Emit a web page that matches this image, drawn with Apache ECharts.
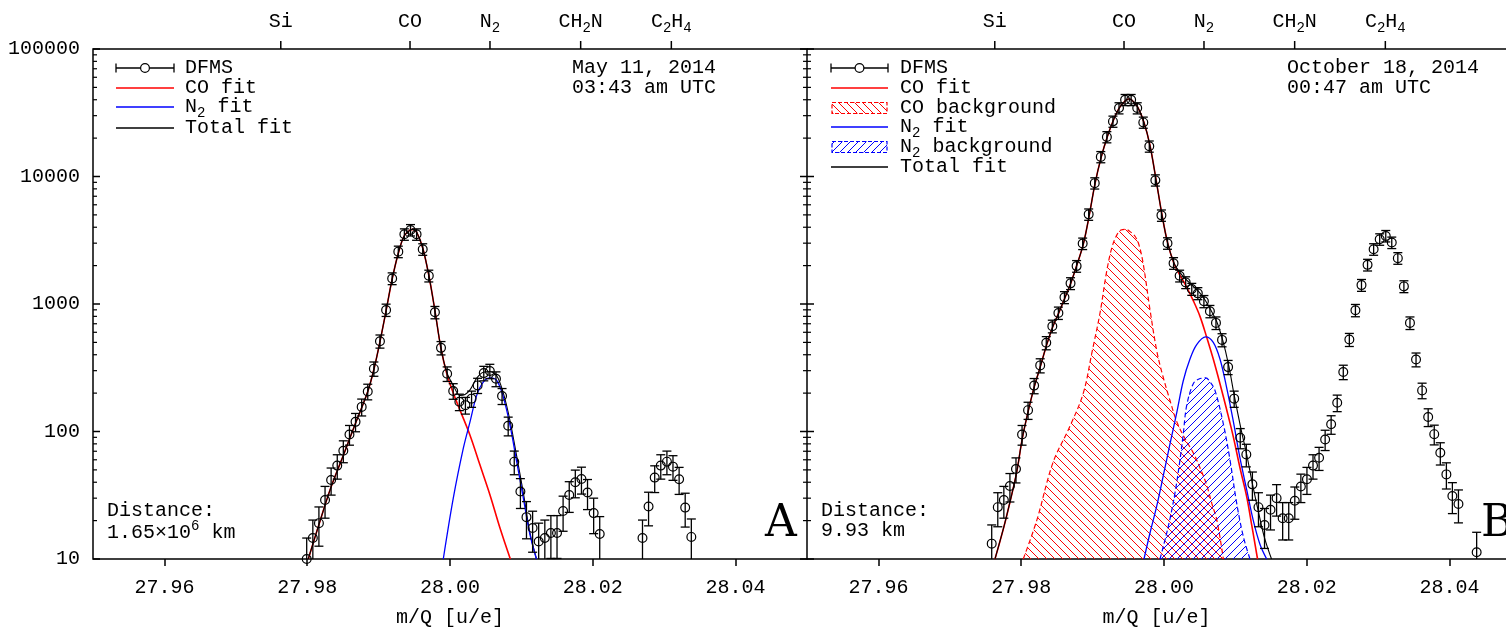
<!DOCTYPE html>
<html><head><meta charset="utf-8">
<script src="https://cdn.jsdelivr.net/npm/echarts@6/dist/echarts.min.js"></script>
<style>html,body{margin:0;padding:0;background:#fff}#c{width:1506px;height:633px}</style>
</head><body><div id="c"></div>
<script>
// ---------------- data ----------------
const xTickValues = [27.96, 27.98, 28.00, 28.02, 28.04];
const yTickValues = [10, 100, 1000, 10000, 100000];
const yMinorMultipliers = [2, 3, 4, 5, 6, 7, 8, 9];
const speciesMass = [27.9763, 27.9944, 28.0056, 28.0183, 28.0310];
const speciesLabels = [[['Si',0]], [['CO',0]], [['N',0],['2',1]], [['CH',0],['2',1],['N',0]], [['C',0],['2',1],['H',0],['4',1]]];

// Panel A (May 11, 2014)
const dfmsA_x = [27.97993,27.98079,27.98164,27.98250,27.98335,27.98421,27.98506,27.98592,27.98677,27.98763,
  27.98848,27.98934,27.99019,27.99105,27.99190,27.99276,27.99361,27.99447,27.99532,27.99618,
  27.99703,27.99789,27.99874,27.99960,28.00045,28.00131,28.00216,28.00302,28.00387,28.00473,
  28.00558,28.00644,28.00729,28.00815,28.00900,28.00986,28.01071,28.01157,28.01242,28.01328,
  28.01413,28.01499,28.01584,28.01670,28.01755,28.01841,28.01926,28.02012,28.02097,
  28.02696,28.02781,28.02867,28.02952,28.03038,28.03123,28.03209,28.03294,28.03380];
const dfmsA_y = [10,14.6,19.1,29,41.7,54,70.7,94.8,119,156,206,311,511,898,1586,2575,3522,3806,3522,2688,
  1665,861,453,284,208,171,161,181,230,287,298,259,190,111,58,33.8,21.3,17.5,13.7,14.6,
  16,16,23.8,31.8,40,42.4,33.2,22.9,15.7,14.6,25.8,43.5,54,58,53,42.2,25.3,14.9];
const dfmsA_err = [4.6,5.6,6.5,8.1,10,11.7,13.8,16.7,19.5,23.6,28.9,39.9,60.3,99.3,168,267,362,390,362,279,
  176,95.6,54.4,37.1,29.1,25.2,24.1,26.3,31.4,37.4,38.5,34.5,27.2,18.6,12.2,8.9,6.9,6.2,5.4,5.6,
  5.9,5.9,7.3,8.6,9.8,10.1,8.8,7.1,5.8,5.6,7.6,10.3,11.7,12.2,11.6,10.1,7.5,5.7];

const coFitA_x = [27.98015,27.98156,27.98329,27.98506,27.98674,27.98847,27.98936,27.99020,27.99104,27.99188,
  27.99276,27.99356,27.99440,27.99482,27.99534,27.99618,27.99706,27.99790,27.99870,27.99954,
  28.00046,28.00140,28.00280,28.00420,28.00560,28.00700,28.00845];
const coFitA_y = [10,18,36,65,115,205,310,510,880,1550,2500,3400,3800,3850,3650,2750,1650,880,460,285,
  200,147,93.5,54.5,31.8,17.5,10];
const n2FitA_x = [27.99906,28.00046,28.00186,28.00280,28.00374,28.00466,28.00560,28.00654,28.00746,28.00840,
  28.00934,28.01027,28.01120,28.01211];
const n2FitA_y = [10,30,73.6,119,192,244,263,252,187,112,58,30,15.5,10];
const totFitA_x = [27.98015,27.98156,27.98329,27.98506,27.98674,27.98847,27.98936,27.99020,27.99104,27.99188,
  27.99276,27.99356,27.99440,27.99482,27.99534,27.99618,27.99706,27.99790,27.99870,27.99954,
  28.00046,28.00140,28.00210,28.00280,28.00374,28.00466,28.00560,28.00654,28.00746,28.00840,
  28.00934,28.01027,28.01120,28.01211];
const totFitA_y = [10,18,36,65,115,205,310,510,880,1550,2500,3400,3800,3850,3650,2750,1650,880,462,292,
  230,192,195,212,262,292,295,274,201,122,64,33,16,10];

// Panel B (October 18, 2014)
const dfmsB_x = [27.97587,27.97672,27.97757,27.97842,27.97927,27.98012,27.98096,27.98181,27.98266,27.98351,
  27.98436,27.98521,27.98606,27.98691,27.98776,27.98861,27.98945,27.99030,27.99115,27.99200,
  27.99285,27.99370,27.99455,27.99540,27.99625,27.99710,27.99794,27.99879,27.99964,28.00049,
  28.00134,28.00219,28.00304,28.00389,28.00474,28.00559,28.00643,28.00728,28.00813,28.00898,
  28.00983,28.01068,28.01153,28.01238,28.01323,28.01408,28.01492,28.01577,28.01662,28.01747,
  28.01832,28.01917,28.02002,28.02087,28.02172,28.02257,28.02341,28.02426,28.02511,28.02596,
  28.02681,28.02766,28.02851,28.02936,28.03021,28.03106,28.03190,28.03275,28.03360,28.03445,
  28.03530,28.03615,28.03700,28.03785,28.03870,28.03955,28.04039,28.04124,28.04379];
const dfmsB_y = [13.2,25.5,29,37.4,50.8,94.8,147,229,330,496,670,851,1128,1452,1982,2980,5048,8870,14250,20420,
  27040,34420,39970,39970,34420,26560,17250,9357,4957,2997,2090,1665,1477,1310,1212,1050,877,711,523,320,
  181,89.3,66.1,38.5,25.5,18.5,24.3,30,20.9,20.9,28.6,37,42.2,54,62.3,86.6,114,168,293,526,
  893,1407,2028,2690,3220,3419,3034,2288,1374,711,367,210,130,95.3,68.1,46.1,31.2,27,11.3];
const dfmsB_err = [5.3,7.6,8.1,9.4,11.3,16.7,22.6,31.3,41.8,58.8,76.3,94.6,122,155,208,308,515,897,1435,2052,
  2714,3452,4007,4007,3452,2666,1735,946,506,310,219,176,157,141,131,115,97.2,80.5,61.5,40.8,
  26.3,16.1,13.3,9.6,7.6,6.4,7.4,8.3,6.8,6.8,8.1,9.3,10.1,11.7,12.8,15.7,18.9,24.9,38,61.8,
  98.8,150,213,279,332,352,313,239,147,80.5,45.6,29.3,20.7,16.8,13.5,10.7,8.5,7.8,4.9];

const totFitB_x = [27.97633,27.97759,27.97843,27.97937,27.98015,27.98099,27.98184,27.98273,27.98357,27.98441,
  27.98529,27.98613,27.98697,27.98777,27.98870,27.98954,27.99034,27.99118,27.99206,27.99290,
  27.99374,27.99464,27.99506,27.99548,27.99632,27.99720,27.99804,27.99888,27.99972,28.00052,
  28.00140,28.00224,28.00308,28.00396,28.00480,28.00564,28.00654,28.00738,28.00822,28.00906,
  28.00985,28.01078,28.01158,28.01242,28.01326,28.01410,28.01506];
const totFitB_y = [10,18,28,48,88,145,225,330,480,660,860,1120,1470,2000,2950,5000,8800,14000,20500,27500,
  34500,39500,40500,39800,35000,26500,17500,9500,5000,3000,2100,1760,1560,1400,1260,1100,900,730,520,330,
  190,105,66,38,23,14.5,10];
const coFitB_x = [27.97633,27.97759,27.97843,27.97937,27.98015,27.98099,27.98184,27.98273,27.98357,27.98441,
  27.98529,27.98613,27.98697,27.98777,27.98870,27.98954,27.99034,27.99118,27.99206,27.99290,
  27.99374,27.99464,27.99506,27.99548,27.99632,27.99720,27.99804,27.99888,27.99972,28.00052,
  28.00140,28.00224,28.00308,28.00410,28.00504,28.00598,28.00690,28.00784,28.00878,28.00971,
  28.01064,28.01158,28.01232,28.01310];
const coFitB_y = [10,18,28,48,88,145,225,330,480,660,860,1120,1470,2000,2950,5000,8800,14000,20500,27500,
  34500,39500,40500,39800,35000,26500,17500,9500,5000,3000,2080,1680,1390,1062,800,549,370,237,148,90.8,
  52,30.9,18,10];
const coBgB_x = [27.98029,27.98217,27.98445,27.98683,27.98870,27.98992,27.99104,27.99197,27.99272,27.99342,
  27.99398,27.99464,27.99524,27.99594,27.99650,27.99710,27.99804,27.99902,27.99986,28.00084,
  28.00182,28.00294,28.00410,28.00504,28.00598,28.00672,28.00742,28.00831];
const coBgB_y = [10,20,57,110,200,420,850,1800,2800,3500,3800,3850,3700,3400,2900,2050,900,420,270,175,
  118,88,68,52,38,27,20,10];
const n2FitB_x = [27.99720,27.99804,27.99898,27.99990,28.00084,28.00178,28.00270,28.00364,28.00458,28.00584,
  28.00690,28.00784,28.00878,28.00971,28.01064,28.01158,28.01251,28.01345,28.01438];
const n2FitB_y = [10,16,26,45,80,140,250,370,480,552,500,370,220,120,62,35,20,13,10];
const n2BgB_x = [27.99944,28.00060,28.00154,28.00224,28.00270,28.00318,28.00410,28.00490,28.00584,28.00644,
  28.00714,28.00831,28.00924,28.01018,28.01111,28.01204];
const n2BgB_y = [10,18,33,60,96,160,237,258,263,245,210,115,60,27.4,15,10];

// ---------------- rendering ----------------
const FONT = "'Liberation Mono','DejaVu Sans Mono',monospace";
const FS = 20;
const X_MIN = 27.95, X_MAX_A = 28.05, X_MAX_B = 28.0479;   // panel B is cut by the page edge
const zip = (xs, ys) => xs.map((x, i) => [x, ys[i]]);

function hatch(color, dir) {
  const s = 8, c = document.createElement('canvas');
  c.width = s; c.height = s;
  const ctx = c.getContext('2d');
  ctx.fillStyle = color;
  for (let i = 0; i < s; i++) ctx.fillRect(i, dir > 0 ? i : s - 1 - i, 1, 1);
  return c;
}
const redHatch = hatch('#ff0000', 1);
const blueHatch = hatch('#0000ff', -1);

function dfmsSeries(xs, ys, es, idx) {
  return {
    type: 'custom', xAxisIndex: idx, yAxisIndex: idx, clip: false, z: 10,
    encode: { x: 0, y: 1 },
    data: xs.map((x, i) => [x, ys[i], Math.max(ys[i] - es[i], 0.5), ys[i] + es[i]]),
    renderItem: (params, api) => {
      const cs = params.coordSys;
      const bottom = cs.y + cs.height;
      const x = api.value(0);
      const c = api.coord([x, api.value(1)]);
      const lo = api.coord([x, api.value(2)]);
      const hi = api.coord([x, api.value(3)]);
      const cap = 4.5, st = { stroke: '#000', lineWidth: 1.3 };
      const loY = Math.min(lo[1], bottom);
      const ch = [
        { type: 'line', shape: { x1: c[0], y1: hi[1], x2: c[0], y2: loY }, style: st },
        { type: 'line', shape: { x1: c[0] - cap, y1: hi[1], x2: c[0] + cap, y2: hi[1] }, style: st }
      ];
      if (lo[1] < bottom) ch.push({ type: 'line', shape: { x1: c[0] - cap, y1: lo[1], x2: c[0] + cap, y2: lo[1] }, style: st });
      ch.push({ type: 'circle', shape: { cx: c[0], cy: c[1], r: 4.4 }, style: { fill: 'none', stroke: '#000', lineWidth: 1.2 } });
      return { type: 'group', children: ch };
    }
  };
}
function lineSeries(xs, ys, idx, color, width, z, extra) {
  return Object.assign({
    type: 'line', xAxisIndex: idx, yAxisIndex: idx, data: zip(xs, ys),
    showSymbol: false, symbol: 'none', smooth: 0.35, z: z, silent: true,
    lineStyle: { color: color, width: width }
  }, extra || {});
}

const chart = echarts.init(document.getElementById('c'), null, { renderer: 'canvas' });
const axisText = { color: '#000', fontFamily: FONT, fontSize: FS };
chart.setOption({
  animation: false,
  backgroundColor: '#fff',
  grid: [
    { left: 93, top: 49, width: 714, height: 512, show: true, borderColor: '#000', borderWidth: 1.5, backgroundColor: 'transparent' },
    { left: 807, top: 49, width: 699, height: 512, show: false }
  ],
  xAxis: [0, 1].map(i => ({
    type: 'value', gridIndex: i, min: X_MIN, max: i === 0 ? X_MAX_A : X_MAX_B,
    axisLine: { show: i === 1, lineStyle: { color: '#000', width: 1.5 } }, splitLine: { show: false },
    axisTick: { show: true, inside: false, length: 7, lineStyle: { color: '#000', width: 1.5 }, customValues: xTickValues },
    axisLabel: Object.assign({ customValues: xTickValues, formatter: v => v.toFixed(2), margin: 19 }, axisText),
    name: 'm/Q [u/e]', nameLocation: 'middle', nameGap: 49, nameTextStyle: axisText,
    nameMoveOverlap: false
  })),
  yAxis: [0, 1].map(i => ({
    type: 'log', logBase: 10, gridIndex: i, min: 10, max: 100000,
    axisLine: { show: false }, splitLine: { show: false }, axisTick: { show: false }, minorTick: { show: false },
    axisLabel: Object.assign({ show: i === 0, formatter: v => String(Math.round(v)), margin: 13 }, axisText)
  })),
  series: [
    lineSeries(coBgB_x, coBgB_y, 1, '#ff0000', 1.2, 2, { lineStyle: { color: '#ff0000', width: 1.2, type: [5, 3] }, areaStyle: { origin: 'start', color: { image: redHatch, repeat: 'repeat' }, opacity: 1 } }),
    lineSeries(n2BgB_x, n2BgB_y, 1, '#0000ff', 1.2, 3, { lineStyle: { color: '#0000ff', width: 1.2, type: [5, 3] }, areaStyle: { origin: 'start', color: { image: blueHatch, repeat: 'repeat' }, opacity: 1 } }),
    lineSeries(coFitA_x, coFitA_y, 0, '#ff0000', 1.6, 4),
    lineSeries(totFitA_x, totFitA_y, 0, '#000000', 1.1, 5),
    lineSeries(n2FitA_x, n2FitA_y, 0, '#0000ff', 1.3, 6),
    lineSeries(coFitB_x, coFitB_y, 1, '#ff0000', 1.6, 4),
    lineSeries(totFitB_x, totFitB_y, 1, '#000000', 1.1, 5),
    lineSeries(n2FitB_x, n2FitB_y, 1, '#0000ff', 1.3, 6),
    dfmsSeries(dfmsA_x, dfmsA_y, dfmsA_err, 0),
    dfmsSeries(dfmsB_x, dfmsB_y, dfmsB_err, 1)
  ]
});

// ---------- overlay: ticks, labels, legends ----------
function richLine(x, y, segs, align, size) {
  const cw = 0.6, sub = Math.round(size * 0.7);
  let w = 0;
  segs.forEach(([t, m]) => { w += t.length * cw * (m ? sub : size); });
  let cx = align === 'center' ? x - w / 2 : (align === 'right' ? x - w : x);
  const out = [];
  segs.forEach(([t, m]) => {
    const fs = m ? sub : size;
    const dy = m === 1 ? size * 0.3 : (m === 2 ? -size * 0.33 : 0);
    out.push({ type: 'text', x: cx, y: y + dy, silent: true, z: 100,
      style: { text: t, fontFamily: FONT, fontSize: fs, fill: '#000', align: 'left', verticalAlign: 'middle' } });
    cx += t.length * cw * fs;
  });
  return out;
}
const g = [];
const L = (x1, y1, x2, y2, st) => g.push({ type: 'line', silent: true, z: 100, shape: { x1, y1, x2, y2 }, style: Object.assign({ stroke: '#000', lineWidth: 1.5 }, st || {}) });

const gridA = { left: 93, right: 807, top: 49 };
// top border of panel B
L(807, 49, 1506, 49);
// y ticks
const yPix = v => chart.convertToPixel({ gridIndex: 0 }, [28.0, v])[1];
yTickValues.forEach(v => {
  const y = yPix(v);
  L(gridA.left, y, gridA.left + 7, y);
  L(gridA.right - 7, y, gridA.right + 7, y);
});
yTickValues.slice(0, -1).forEach(d => yMinorMultipliers.forEach(m => {
  const y = yPix(d * m);
  L(gridA.left, y, gridA.left + 4, y, { lineWidth: 1.2 });
  L(gridA.right - 4, y, gridA.right + 4, y, { lineWidth: 1.2 });
}));
// top species ticks
[0, 1].forEach(gi => speciesMass.forEach((m, k) => {
  const x = chart.convertToPixel({ gridIndex: gi }, [m, 1000])[0];
  L(x, 49, x, 41);
  richLine(x, 22, speciesLabels[k], 'center', FS).forEach(e => g.push(e));
}));

// legends
function legendDFMS(x1, x2, y) {
  L(x1, y, x2, y, { lineWidth: 1.3 });
  L(x1, y - 4.5, x1, y + 4.5, { lineWidth: 1.3 });
  L(x2, y - 4.5, x2, y + 4.5, { lineWidth: 1.3 });
  g.push({ type: 'circle', silent: true, z: 101, shape: { cx: (x1 + x2) / 2, cy: y, r: 4.4 }, style: { fill: '#fff', stroke: '#000', lineWidth: 1.2 } });
}
function legendHatch(x1, x2, y, color, pat) {
  g.push({ type: 'rect', silent: true, z: 100, shape: { x: x1, y: y - 5.5, width: x2 - x1, height: 11 },
    style: { fill: { image: pat, repeat: 'repeat' }, stroke: color, lineWidth: 1.2, lineDash: [4, 2] } });
}
const tx = (x, y, segs) => richLine(x, y, segs, 'left', FS).forEach(e => g.push(e));

// legend A
legendDFMS(116, 174, 68); tx(185, 68, [['DFMS', 0]]);
L(116, 88, 174, 88, { stroke: '#ff0000', lineWidth: 1.3 }); tx(185, 88, [['CO fit', 0]]);
L(116, 107, 174, 107, { stroke: '#0000ff', lineWidth: 1.3 }); tx(185, 107, [['N', 0], ['2', 1], [' fit', 0]]);
L(116, 128, 174, 128, { stroke: '#000', lineWidth: 1.3 }); tx(185, 128, [['Total fit', 0]]);
tx(572, 68, [['May 11, 2014', 0]]);
tx(572, 88, [['03:43 am UTC', 0]]);
tx(107, 511, [['Distance:', 0]]);
tx(107, 533, [['1.65×10', 0], ['6', 2], [' km', 0]]);

// legend B
legendDFMS(831, 888, 68); tx(900, 68, [['DFMS', 0]]);
L(831, 88, 888, 88, { stroke: '#ff0000', lineWidth: 1.3 }); tx(900, 88, [['CO fit', 0]]);
legendHatch(832, 887, 108, '#ff0000', redHatch); tx(900, 108, [['CO background', 0]]);
L(831, 127, 888, 127, { stroke: '#0000ff', lineWidth: 1.3 }); tx(900, 127, [['N', 0], ['2', 1], [' fit', 0]]);
legendHatch(832, 887, 147, '#0000ff', blueHatch); tx(900, 147, [['N', 0], ['2', 1], [' background', 0]]);
L(831, 167, 888, 167, { stroke: '#000', lineWidth: 1.3 }); tx(900, 167, [['Total fit', 0]]);
tx(1287, 68, [['October 18, 2014', 0]]);
tx(1287, 88, [['00:47 am UTC', 0]]);
tx(821, 511, [['Distance:', 0]]);
tx(821, 531, [['9.93 km', 0]]);

// panel letters
const LETTER = { fontFamily: "'DejaVu Serif','Liberation Serif',serif", fontSize: 44, fill: '#000', verticalAlign: 'middle' };
g.push({ type: 'text', silent: true, z: 100, x: 781, y: 525, style: Object.assign({ text: 'A', align: 'center' }, LETTER) });
g.push({ type: 'text', silent: true, z: 100, x: 1481, y: 525, style: Object.assign({ text: 'B', align: 'left' }, LETTER) });

chart.setOption({ graphic: g });
</script>
</body></html>
